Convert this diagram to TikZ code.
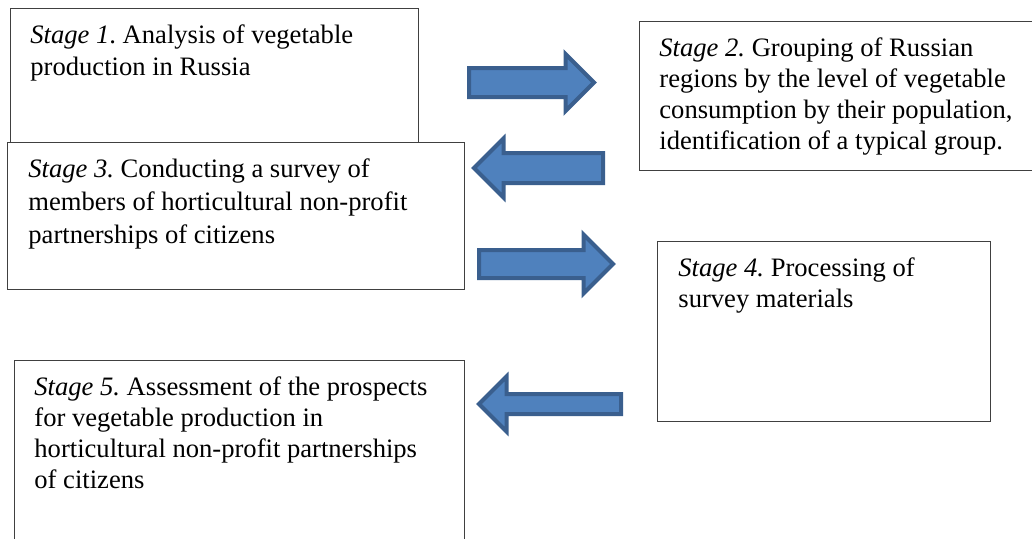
\documentclass[tikz,border=0pt]{standalone}
\usepackage{fontspec}
\setmainfont{Liberation Serif}
\usetikzlibrary{positioning,shapes.arrows}
\frenchspacing

\definecolor{arrowfill}{HTML}{4F81BD}
\definecolor{arrowline}{HTML}{3A5F8E}

\tikzset{
  stagebox/.style={draw=black!75, line width=0.6pt, fill=white, anchor=north west, inner sep=0pt},
  stagetext/.style={align=left, inner sep=0pt, font=\fontsize{13.3pt}{#1}\selectfont},
  stagetext/.default=15.5pt,
  flowarrow/.style={single arrow, draw=arrowline, fill=arrowfill, line width=2pt,
    inner sep=0pt, text depth=0pt, anchor=tail}
}

\begin{document}
\begin{tikzpicture}[x=0.5pt,y=-0.5pt]
\useasboundingbox (0,0) rectangle (1032,538);
% stages
\node[stagebox, minimum width=204pt, minimum height=67.5pt] (s1) at (10,8) {};
\node[stagebox, minimum width=197.5pt, minimum height=74.5pt] (s2) at (639,21) {};
\node[stagebox, minimum width=228.5pt, minimum height=73.5pt] (s3) at (7,142) {};
\node[stagebox, minimum width=166.5pt, minimum height=90pt] (s4) at (657,241) {};
\node[stagebox, minimum width=225pt, minimum height=91pt] (s5) at (14,360) {};
\node[stagetext=15.8pt, below right=8.4pt and 10pt of s1.north west] (t1)
  {\textit{Stage 1}. Analysis of vegetable\\production in Russia};
\node[stagetext, below right=8.4pt and 10pt of s2.north west] (t2)
  {\textit{Stage 2.} Grouping of Russian\\regions by the level of vegetable\\consumption by their population,\\identification of a typical group.};
\node[stagetext=16.3pt, below right=8.4pt and 10.5pt of s3.north west] (t3)
  {\textit{Stage 3.} Conducting a survey of\\members of horticultural non-profit\\partnerships of citizens};
\node[stagetext, below right=8.4pt and 10.5pt of s4.north west] (t4)
  {\textit{Stage 4.} Processing of\\survey materials};
\node[stagetext, below right=8.2pt and 10pt of s5.north west] (t5)
  {\textit{Stage 5.} Assessment of the prospects\\for vegetable production in\\horticultural non-profit partnerships\\of citizens};
% arrows between stages
\node[flowarrow, minimum height=62.5pt, text height=12.5pt, single arrow head extend=7pt] (a1) at (467,82.5) {};
\node[flowarrow, shape border rotate=180, minimum height=64.5pt, text height=13pt, single arrow head extend=7.25pt] (a2) at (605,168) {};
\node[flowarrow, minimum height=67pt, text height=12pt, single arrow head extend=7.75pt] (a3) at (477,264) {};
\node[flowarrow, shape border rotate=180, minimum height=71pt, text height=8pt, single arrow head extend=8.75pt] (a4) at (623,404) {};
\end{tikzpicture}
\end{document}
